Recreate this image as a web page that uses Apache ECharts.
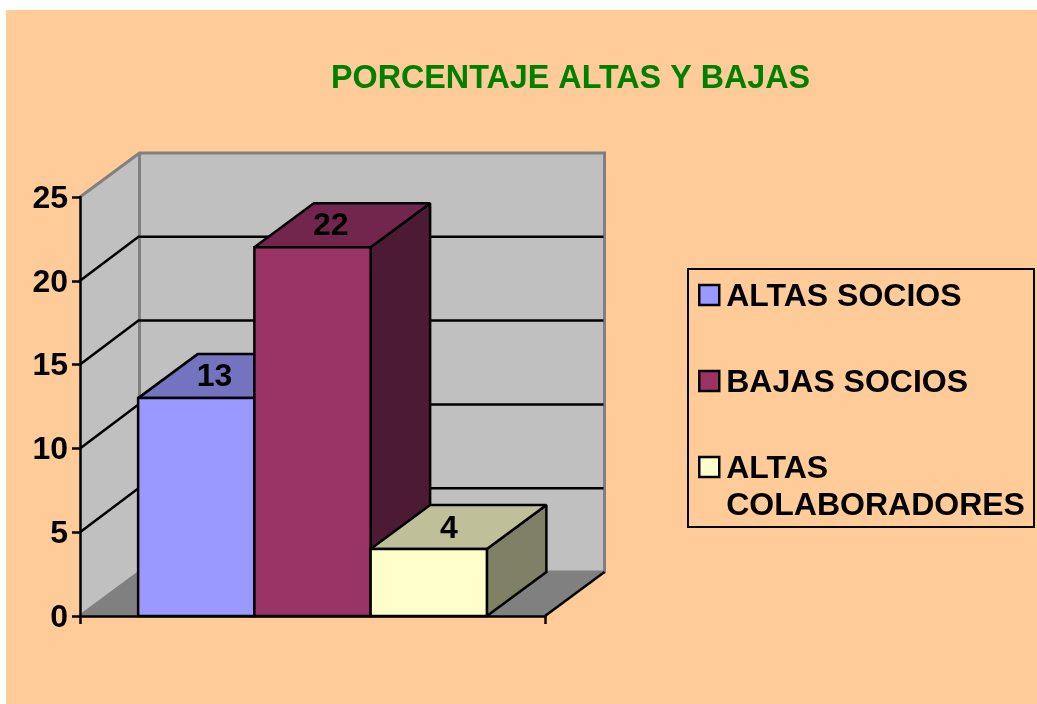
<!DOCTYPE html>
<html>
<head>
<meta charset="utf-8">
<style>html,body{margin:0;background:#fff}#main{width:1037px;height:704px}</style>
<script src="https://cdn.jsdelivr.net/npm/echarts@6/dist/echarts.min.js"></script>
</head>
<body>
<div id="main"></div>
<script>
// values
var categories = [''];
var seriesNames = ['ALTAS SOCIOS', 'BAJAS SOCIOS', 'ALTAS\nCOLABORADORES'];
var altasSocios = [13];
var bajasSocios = [22];
var altasColaboradores = [4];
var yTicks = [0, 5, 10, 15, 20, 25];

var frontColors = ['#9999FF', '#993366', '#FFFFCC'];
var topColors = ['#7373BF', '#73264D', '#BFBF99'];
var sideColors = ['#4D4D80', '#4D1A33', '#808066'];

var font = 'Liberation Sans, Arial, sans-serif';
var depthX = 59.5, depthY = -44;   // fake 3d offset of the back wall
var barShare = 0.25;               // 3 bars + 50% gap fill the category

function poly(points, fill, stroke, width) {
  return {
    type: 'polygon',
    shape: { points: points },
    style: { fill: fill, stroke: stroke || null, lineWidth: width || 0, lineJoin: 'miter', miterLimit: 2 }
  };
}
function line(points, stroke, width) {
  return {
    type: 'polyline',
    shape: { points: points },
    style: { fill: null, stroke: stroke, lineWidth: width }
  };
}

function renderWalls(params, api) {
  var c = api.coord([0, 0]);
  var w = api.size([1, 0])[0];
  var l = c[0] - w / 2, r = c[0] + w / 2, y0 = c[1];
  var y1 = api.coord([0, 25])[1];
  return {
    type: 'group',
    children: [
      poly([[l + depthX, y1 + depthY], [r + depthX, y1 + depthY], [r + depthX, y0 + depthY], [l + depthX, y0 + depthY]], '#C0C0C0'),
      poly([[l, y1], [l + depthX, y1 + depthY], [l + depthX, y0 + depthY], [l, y0]], '#C0C0C0'),
      poly([[l, y0], [l + depthX, y0 + depthY], [r + depthX, y0 + depthY], [r, y0]], '#808080'),
      line([[l, y1], [l + depthX, y1 + depthY], [r + depthX, y1 + depthY], [r + depthX, y0 + depthY], [l + depthX, y0 + depthY], [l, y0]], '#808080', 3),
      line([[l + depthX, y1 + depthY], [l + depthX, y0 + depthY]], '#808080', 3),
      line([[r, y0], [r + depthX, y0 + depthY]], '#000', 2.5)
    ]
  };
}

function renderGrid(params, api) {
  var v = api.value(1);
  var c = api.coord([0, v]);
  var w = api.size([1, 0])[0];
  var l = c[0] - w / 2, r = c[0] + w / 2;
  return line([[l, c[1]], [l + depthX - 1, c[1] + depthY], [r + depthX - 1, c[1] + depthY]], '#000', 2.5);
}

function barRenderer(idx) {
  return function (params, api) {
    var v = api.value(1);
    var base = api.coord([0, 0]);
    var top = api.coord([0, v]);
    var w = api.size([1, 0])[0] * barShare;
    var x0 = base[0] - 1.5 * w + idx * w;
    var x1 = x0 + w;
    var k = '#000';
    return {
      type: 'group',
      children: [
        poly([[x1, base[1]], [x1 + depthX, base[1] + depthY], [x1 + depthX, top[1] + depthY], [x1, top[1]]], sideColors[idx], k, 2.5),
        poly([[x0, top[1]], [x0 + depthX, top[1] + depthY], [x1 + depthX, top[1] + depthY], [x1, top[1]]], topColors[idx], k, 2.5),
        poly([[x0, base[1]], [x0, top[1]], [x1, top[1]], [x1, base[1]]], frontColors[idx], k, 2.5),
        {
          type: 'text',
          x: x0 + w / 2 + depthX / 2 - 11.5 + (idx === 2 ? 2 : 0),
          y: top[1] + depthY / 2 + (idx === 2 ? 2 : 1),
          style: { text: String(v), font: 'bold 32px ' + font, fill: '#000', textAlign: 'center', textVerticalAlign: 'middle' }
        }
      ]
    };
  };
}

function pairs(values) {
  return values.map(function (v, i) { return [i, v]; });
}

// every legend row is three lines tall so the swatch stays on the first text line
function legendText(name) {
  return name.indexOf('\n') >= 0 ? '\n' + name : '\n' + name + '\n';
}

var chart = echarts.init(document.getElementById('main'), null, { renderer: 'canvas' });
chart.setOption({
  animation: false,
  backgroundColor: '#fff',
  graphic: [
    {
      type: 'rect', z: -10, silent: true,
      shape: { x: 6, y: 10, width: 1031, height: 694 },
      style: { fill: '#FFCC99' }
    },
    {
      type: 'rect', z: 1, silent: true,
      shape: { x: 688, y: 269, width: 346, height: 258 },
      style: { fill: null, stroke: '#000', lineWidth: 2 }
    }
  ],
  title: {
    text: 'PORCENTAJE ALTAS Y BAJAS',
    left: 331, top: 63, padding: 0,
    textStyle: { color: '#008000', fontFamily: font, fontWeight: 'bold', fontSize: 32.3 }
  },
  legend: {
    orient: 'vertical',
    left: 698, top: 241.5,
    padding: 0,
    itemGap: -25,
    itemWidth: 20, itemHeight: 24,
    selectedMode: false,
    formatter: legendText,
    textStyle: { color: '#000', fontFamily: font, fontWeight: 'bold', fontSize: 32, lineHeight: 37, padding: [0, 0, 0, 2] },
    data: seriesNames.map(function (n, i) {
      // swatch sits in the top of the 24px item box, 2px above the text middle
      return { name: n, icon: 'path://M0,0H20V20H0Z M0,24', itemStyle: { color: frontColors[i], borderColor: '#000', borderWidth: 2.5 } };
    })
  },
  grid: { left: 80, top: 197, width: 465, height: 419, containLabel: false },
  xAxis: {
    type: 'category', data: categories,
    axisLine: { lineStyle: { color: '#000', width: 2.5 } },
    axisTick: { show: true, interval: 0, length: 8, lineStyle: { color: '#000', width: 2.5 } },
    axisLabel: { show: false },
    z: 5
  },
  yAxis: {
    type: 'value', min: 0, max: 25, interval: 5,
    splitLine: { show: false },
    axisLine: { show: true, lineStyle: { color: '#000', width: 2.5 } },
    axisTick: { show: true, length: 8, lineStyle: { color: '#000', width: 2.5 } },
    axisLabel: {
      color: '#000', fontFamily: font, fontWeight: 'bold', fontSize: 32, margin: 12,
      verticalAlign: 'top', lineHeight: 32, padding: [-14, 0, 0, 0]
    },
    z: 5
  },
  series: [
    { type: 'custom', name: 'walls', silent: true, z: 1, renderItem: renderWalls, data: [[0, 0]] },
    { type: 'custom', name: 'grid', silent: true, z: 2, renderItem: renderGrid, data: yTicks.slice(1, -1).map(function (v) { return [0, v]; }) },
    { type: 'custom', name: seriesNames[0], z: 3, renderItem: barRenderer(0), data: pairs(altasSocios) },
    { type: 'custom', name: seriesNames[1], z: 3, renderItem: barRenderer(1), data: pairs(bajasSocios) },
    { type: 'custom', name: seriesNames[2], z: 3, renderItem: barRenderer(2), data: pairs(altasColaboradores) }
  ]
});
</script>
</body>
</html>
